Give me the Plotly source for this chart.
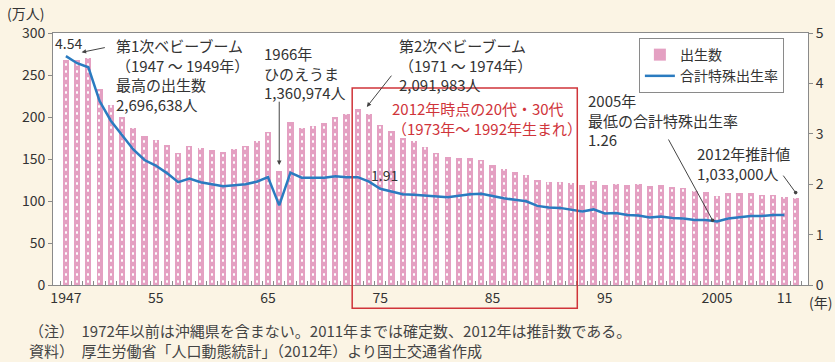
import plotly.graph_objects as go

years = list(range(1947, 2013))
births = [267.9, 268.2, 269.7, 233.8, 213.8, 200.5, 186.8, 177.0, 173.1, 166.5,
          156.7, 165.3, 162.6, 160.6, 158.9, 161.9, 166.0, 171.7, 182.4, 136.1,
          193.6, 187.2, 188.9, 193.4, 200.1, 203.9, 209.2, 203.0, 190.1, 183.3,
          175.5, 170.9, 164.3, 157.7, 152.9, 151.5, 150.9, 149.0, 143.2, 138.3,
          134.7, 131.4, 124.7, 122.2, 122.3, 120.9, 118.8, 123.8, 118.7, 120.7,
          119.2, 120.3, 117.8, 119.1, 117.1, 115.4, 112.4, 111.1, 106.3, 109.3,
          109.0, 109.1, 107.0, 107.1, 105.1, 103.3]
tfr_years = list(range(1947, 2012))
tfr = [4.54, 4.40, 4.32, 3.65, 3.26, 2.98, 2.69, 2.48, 2.37, 2.22,
       2.04, 2.11, 2.04, 2.00, 1.96, 1.98, 2.00, 2.05, 2.14, 1.58,
       2.23, 2.13, 2.13, 2.13, 2.16, 2.14, 2.14, 2.05, 1.91, 1.85,
       1.80, 1.79, 1.77, 1.75, 1.74, 1.77, 1.80, 1.81, 1.76, 1.72,
       1.69, 1.66, 1.57, 1.54, 1.53, 1.50, 1.46, 1.50, 1.42, 1.43,
       1.39, 1.38, 1.34, 1.36, 1.33, 1.32, 1.29, 1.29, 1.26, 1.32,
       1.34, 1.37, 1.37, 1.39, 1.39]
tick_vals = [1947, 1955, 1965, 1975, 1985, 1995, 2005, 2011]
tick_text = ["1947", "55", "65", "75", "85", "95", "2005", "11"]

FONT = "Noto Sans CJK JP"
PINK = "#e4a0c2"
BLUE = "#2a7bc0"
TXT = "#333333"
AX = "#8a8a8a"
BG = "#fbf4e4"

fig = go.Figure()
fig.add_trace(go.Bar(x=years, y=births, name="出生数", width=0.55,
                     marker=dict(color=PINK, line=dict(width=0))))
fig.add_trace(go.Bar(x=years, y=births, showlegend=False, width=0.12,
                     hoverinfo="skip",
                     marker=dict(color=PINK, line=dict(width=0),
                                 pattern=dict(shape="-", fgcolor="white", bgcolor=PINK,
                                              size=7, solidity=0.35, fillmode="replace"))))
fig.add_trace(go.Scatter(x=tfr_years, y=tfr, name="合計特殊出生率", yaxis="y2",
                         mode="lines", line=dict(color=BLUE, width=2.5)))

ann = []
def txt(x, y, text, color=TXT, size=15, xref="x", yref="y", xanchor="left", yanchor="top", align="left"):
    ann.append(dict(x=x, y=y, xref=xref, yref=yref, text=text, showarrow=False,
                    xanchor=xanchor, yanchor=yanchor, align=align,
                    font=dict(family=FONT, size=size, color=color)))

def arrow(x, y, ax, ay, head=2):
    ann.append(dict(x=x, y=y, ax=ax, ay=ay, xref="x", yref="y", axref="x", ayref="y",
                    text="", showarrow=True, arrowhead=head, arrowsize=0.9,
                    arrowwidth=1, arrowcolor="#444"))

txt(1947.2, 288, "4.54", xanchor="center", yanchor="middle", size=14)
arrow(1948.4, 277, 1950.6, 283)
txt(1951.3, 300, "第1次ベビーブーム<br>（1947 ～ 1949年）<br>最高の出生数<br>2,696,638人")
txt(1964.5, 291, "1966年<br>ひのえうま<br>1,360,974人")
arrow(1966, 143, 1966, 220)
txt(1976.5, 300, "第2次ベビーブーム<br>（1971 ～ 1974年）<br>2,091,983人")
arrow(1973.8, 212, 1976.1, 251)
txt(1975.9, 0.75, "2012年時点の20代・30代<br>（1973年～ 1992年生まれ）", color="#d0343a", yref="paper")
txt(1975.4, 131, "1.91", xanchor="center", yanchor="middle", size=14)
txt(1993.3, 235, "2005年<br>最低の合計特殊出生率<br>1.26")
arrow(2004.6, 77, 2000.6, 175, head=6)
txt(2003.0, 171, "2012年推計値<br>1,033,000人")
arrow(2012, 110, 2010.8, 132, head=6)
txt(-0.064, 1.08, "(万人)", xref="paper", yref="paper", xanchor="left", yanchor="middle", size=14)
txt(1.034, -0.02, "(年)", xref="paper", yref="paper", xanchor="right", yanchor="top", size=14)
txt(-0.035, -0.13, "（注）　1972年以前は沖縄県を含まない。2011年までは確定数、2012年は推計数である。<br>資料）　厚生労働省「人口動態統計」（2012年）より国土交通省作成",
    xref="paper", yref="paper", color="#444")

fig.update_layout(
    width=835, height=362,
    margin=dict(l=53, r=27, t=33, b=77),
    paper_bgcolor=BG, plot_bgcolor="white",
    barmode="overlay", bargap=0,
    font=dict(family=FONT, size=14, color=TXT),
    showlegend=True,
    legend=dict(x=0.776, y=0.98, xanchor="left", yanchor="top",
                bgcolor="white", bordercolor=AX, borderwidth=1,
                font=dict(family=FONT, size=14, color=TXT),
                tracegroupgap=0, itemwidth=30),
    xaxis=dict(range=[1945.85, 2013.1], tickmode="array", tickvals=tick_vals, ticktext=tick_text,
               ticks="", showline=True, linecolor=AX, linewidth=1, mirror=True,
               showgrid=False, zeroline=False, tickfont=dict(size=14, color=TXT),
               minor=dict(tickmode="linear", tick0=1946.5, dtick=1, ticks="inside",
                          ticklen=4, tickcolor=AX, showgrid=False)),
    yaxis=dict(range=[0, 300], dtick=50, showline=True, linecolor=AX, linewidth=1,
               ticks="outside", ticklen=4, tickcolor=AX, showgrid=False, zeroline=False,
               tickfont=dict(size=14, color=TXT)),
    yaxis2=dict(range=[0, 5], dtick=1, overlaying="y", side="right", showline=True,
                linecolor=AX, linewidth=1, ticks="outside", ticklen=4, tickcolor=AX,
                showgrid=False, zeroline=False, tickfont=dict(size=14, color=TXT)),
    annotations=ann,
    shapes=[dict(type="rect", xref="x", yref="paper", x0=1972.5, x1=1992.55,
                 y0=-0.092, y1=0.782, line=dict(color="#d0343a", width=1.5),
                 fillcolor="rgba(0,0,0,0)", layer="above")],
)

fig.write_html("out.html", config={"displayModeBar": False},
               post_script="document.body.style.margin='0';document.body.style.overflow='hidden';")
